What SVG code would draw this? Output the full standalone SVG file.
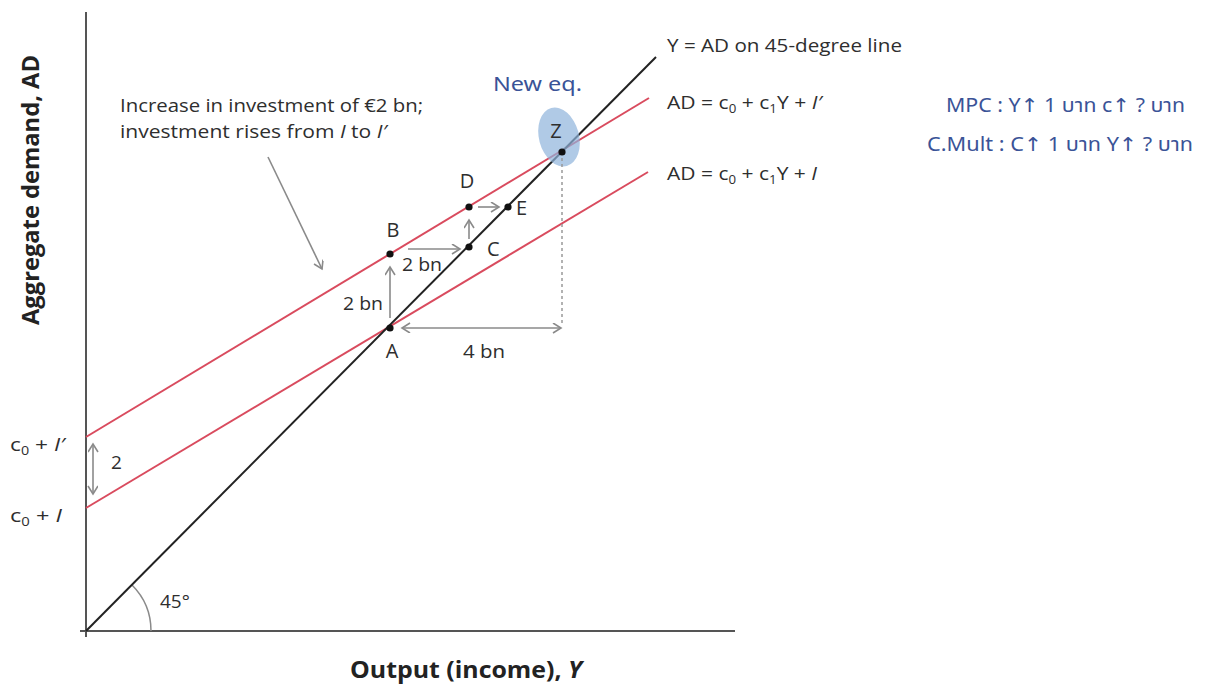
<svg xmlns="http://www.w3.org/2000/svg" width="1209" height="686" viewBox="0 0 1209 686">
<style>
.t{font-family:"Open Sans","Noto Sans","DejaVu Sans",sans-serif;fill:#2e2e2e;font-size:19px}
.lab{font-family:"Open Sans","Noto Sans","DejaVu Sans",sans-serif;fill:#2e2e2e;font-size:20px}
.ax{font-family:"Open Sans","Noto Sans","DejaVu Sans",sans-serif;fill:#222;font-size:24px;font-weight:bold}
.hw{font-family:"Noto Sans","Noto Sans Thai","DejaVu Sans",sans-serif;fill:#3a5397;font-size:19px;font-weight:400}
.red{stroke:#d94b5e;stroke-width:2;fill:none}
.blk{stroke:#222;stroke-width:2;fill:none}
.axis{stroke:#555;stroke-width:2;fill:none}
.arr{stroke:#8a8a8a;stroke-width:1.6;fill:none}
.dot{fill:#111}
</style>
<defs>
<marker id="ah" markerWidth="12" markerHeight="12" refX="9" refY="5" orient="auto-start-reverse" markerUnits="userSpaceOnUse">
<path d="M1,0 L9,5 L1,10" fill="none" stroke="#8a8a8a" stroke-width="1.6"/>
</marker>
</defs>
<rect width="1209" height="686" fill="#fff"/>

<g id="axes">
<line class="axis" x1="86" y1="12" x2="86" y2="637"/>
<line class="axis" x1="80" y1="631" x2="735" y2="631"/>
<path d="M151,631 A65,65 0 0 0 132,585" stroke="#8a8a8a" stroke-width="1.5" fill="none"/>
<text class="t" x="160" y="608">45°</text>
<text class="ax" transform="translate(39,190) rotate(-90)" text-anchor="middle" textLength="270" lengthAdjust="spacingAndGlyphs">Aggregate demand, AD</text>
<text class="ax" x="350" y="678" textLength="232" lengthAdjust="spacingAndGlyphs">Output (income), <tspan font-style="italic">Y</tspan></text>
</g>

<g id="lines">
<line class="red" x1="86" y1="437" x2="649" y2="98"/>
<line class="red" x1="86" y1="508" x2="648" y2="172"/>
<line class="blk" x1="86" y1="631" x2="656" y2="57"/>
</g>

<g id="line-labels">
<text class="t" x="667" y="52" textLength="235" lengthAdjust="spacingAndGlyphs">Y = AD on 45-degree line</text>
<text class="t" x="667" y="109" textLength="155" lengthAdjust="spacingAndGlyphs">AD = c<tspan font-size="12" dy="4">0</tspan><tspan dy="-4"> + c</tspan><tspan font-size="12" dy="4">1</tspan><tspan dy="-4">Y + </tspan><tspan font-style="italic">I′</tspan></text>
<text class="t" x="667" y="180" textLength="150" lengthAdjust="spacingAndGlyphs">AD = c<tspan font-size="12" dy="4">0</tspan><tspan dy="-4"> + c</tspan><tspan font-size="12" dy="4">1</tspan><tspan dy="-4">Y + </tspan><tspan font-style="italic">I</tspan></text>
<text class="t" x="10" y="451" textLength="55" lengthAdjust="spacingAndGlyphs">c<tspan font-size="12" dy="4">0</tspan><tspan dy="-4"> + </tspan><tspan font-style="italic">I′</tspan></text>
<text class="t" x="10" y="522" textLength="52" lengthAdjust="spacingAndGlyphs">c<tspan font-size="12" dy="4">0</tspan><tspan dy="-4"> + </tspan><tspan font-style="italic">I</tspan></text>
<text class="t" x="120" y="112" textLength="303" lengthAdjust="spacingAndGlyphs">Increase in investment of €2 bn;</text>
<text class="t" x="120" y="138" textLength="267" lengthAdjust="spacingAndGlyphs">investment rises from <tspan font-style="italic">I</tspan> to <tspan font-style="italic">I′</tspan></text>
</g>

<g id="highlight">
<ellipse cx="559" cy="137" rx="20" ry="30" transform="rotate(-15 559 137)" fill="#8fb3dc" opacity="0.7"/>
</g>

<g id="connectors">
<line class="arr" x1="268" y1="157" x2="322" y2="269" marker-end="url(#ah)"/>
<line class="arr" x1="93" y1="444" x2="93" y2="494" marker-start="url(#ah)" marker-end="url(#ah)"/>
<line class="arr" x1="390" y1="318" x2="390" y2="267" marker-end="url(#ah)"/>
<line class="arr" x1="408" y1="249" x2="460" y2="249" marker-end="url(#ah)"/>
<line class="arr" x1="469" y1="239" x2="469" y2="220" marker-end="url(#ah)"/>
<line class="arr" x1="478" y1="207" x2="499" y2="207" marker-end="url(#ah)"/>
<line class="arr" x1="402" y1="328" x2="561" y2="328" marker-start="url(#ah)" marker-end="url(#ah)"/>
<line x1="562" y1="158" x2="562" y2="326" stroke="#999" stroke-width="1.5" stroke-dasharray="3,3"/>
</g>

<g id="node-A"><circle class="dot" cx="390" cy="328" r="3.6"/><text class="lab" x="392" y="358" text-anchor="middle">A</text></g>
<g id="node-B"><circle class="dot" cx="390" cy="254" r="3.6"/><text class="lab" x="393" y="237" text-anchor="middle">B</text></g>
<g id="node-C"><circle class="dot" cx="469" cy="247" r="3.6"/><text class="lab" x="487" y="256">C</text></g>
<g id="node-D"><circle class="dot" cx="469" cy="207" r="3.6"/><text class="lab" x="467" y="188" text-anchor="middle">D</text></g>
<g id="node-E"><circle class="dot" cx="508" cy="207" r="3.6"/><text class="lab" x="516" y="215">E</text></g>
<g id="node-Z"><circle class="dot" cx="562" cy="152" r="3.6"/><text class="lab" x="556" y="138" text-anchor="middle">Z</text></g>

<g id="amounts">
<text class="t" x="402" y="271" textLength="40" lengthAdjust="spacingAndGlyphs">2 bn</text>
<text class="t" x="343" y="310" textLength="40" lengthAdjust="spacingAndGlyphs">2 bn</text>
<text class="t" x="463" y="358" textLength="42" lengthAdjust="spacingAndGlyphs">4 bn</text>
<text class="t" x="111" y="469">2</text>
</g>

<g id="notes">
<text class="hw" x="493" y="91" font-size="26" textLength="89" lengthAdjust="spacingAndGlyphs">New eq.</text>
<text class="hw" x="946" y="112" textLength="239" lengthAdjust="spacingAndGlyphs">MPC : Y↑ 1 บาท  c↑ ? บาท</text>
<text class="hw" x="927" y="151" textLength="266" lengthAdjust="spacingAndGlyphs">C.Mult : C↑ 1 บาท  Y↑ ? บาท</text>
</g>
</svg>
